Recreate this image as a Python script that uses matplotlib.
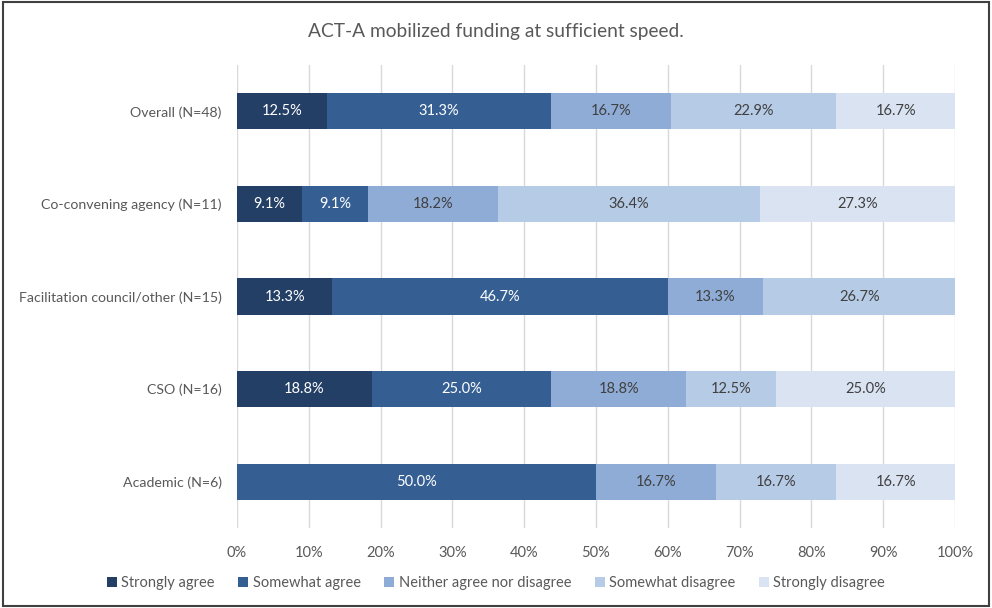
import matplotlib.pyplot as plt
from matplotlib.patches import Rectangle

# data
groups = ['Overall (N=48)', 'Co-convening agency (N=11)', 'Facilitation council/other (N=15)',
          'CSO (N=16)', 'Academic (N=6)']
responses = ['Strongly agree', 'Somewhat agree', 'Neither agree nor disagree',
             'Somewhat disagree', 'Strongly disagree']
strongly_agree = [12.5, 9.1, 13.3, 18.8, 0.0]
somewhat_agree = [31.3, 9.1, 46.7, 25.0, 50.0]
neither = [16.7, 18.2, 13.3, 18.8, 16.7]
somewhat_disagree = [22.9, 36.4, 26.7, 12.5, 16.7]
strongly_disagree = [16.7, 27.3, 0.0, 25.0, 16.7]
x_ticks = [0, 10, 20, 30, 40, 50, 60, 70, 80, 90, 100]

series = [strongly_agree, somewhat_agree, neither, somewhat_disagree, strongly_disagree]
colors = ['#243f66', '#355f93', '#8eacd6', '#b6cbe6', '#dae3f2']
label_colors = ['white', 'white', '#404040', '#404040', '#404040']

plt.rcParams['font.family'] = ['Lato', 'DejaVu Sans']
grey = '#595959'

fig = plt.figure(figsize=(9.92, 6.08), dpi=100)
ax = fig.add_axes([237 / 992, 1 - 528 / 608, (955 - 237) / 992, (528 - 65) / 608])

ypos = list(range(len(groups)))
left = [0.0] * len(groups)
for vals, name, col, tcol in zip(series, responses, colors, label_colors):
    ax.barh(ypos, vals, left=left, height=0.39, color=col, label=name, zorder=2)
    for y, v, l in zip(ypos, vals, left):
        if v > 0:
            ax.text(l + v / 2, y, f'{v:.1f}%', ha='center', va='center',
                    color=tcol, fontsize=10.5, zorder=3)
    left = [a + b for a, b in zip(left, vals)]

ax.set_ylim(len(groups) - 0.5, -0.5)
ax.set_xlim(0, 100)
ax.set_yticks(ypos)
ax.set_yticklabels(groups, fontsize=10.2, color=grey)
ax.set_xticks(x_ticks)
ax.set_xticklabels([f'{t}%' for t in x_ticks], fontsize=10.5, color=grey)
ax.tick_params(axis='both', length=0)
ax.tick_params(axis='y', pad=11)
ax.tick_params(axis='x', pad=13)
ax.grid(axis='x', color='#d9d9d9', linewidth=1, zorder=0)
for s in ax.spines.values():
    s.set_visible(False)

fig.text(0.5, 1 - 32 / 608, 'ACT-A mobilized funding at sufficient speed.',
         ha='center', va='center', fontsize=13.8, color=grey)

leg = fig.legend(loc='center', bbox_to_anchor=(0.5, 1 - 583 / 608), ncol=5,
                 frameon=False, fontsize=10.5, handlelength=0.7, handleheight=0.7,
                 handletextpad=0.3, columnspacing=1.6)
for t in leg.get_texts():
    t.set_color(grey)

fig.patches.append(Rectangle((0.003, 0.004), 0.994, 0.992, transform=fig.transFigure,
                             fill=False, edgecolor='#404040', linewidth=1.5))

fig.savefig('out.png', dpi=100)
